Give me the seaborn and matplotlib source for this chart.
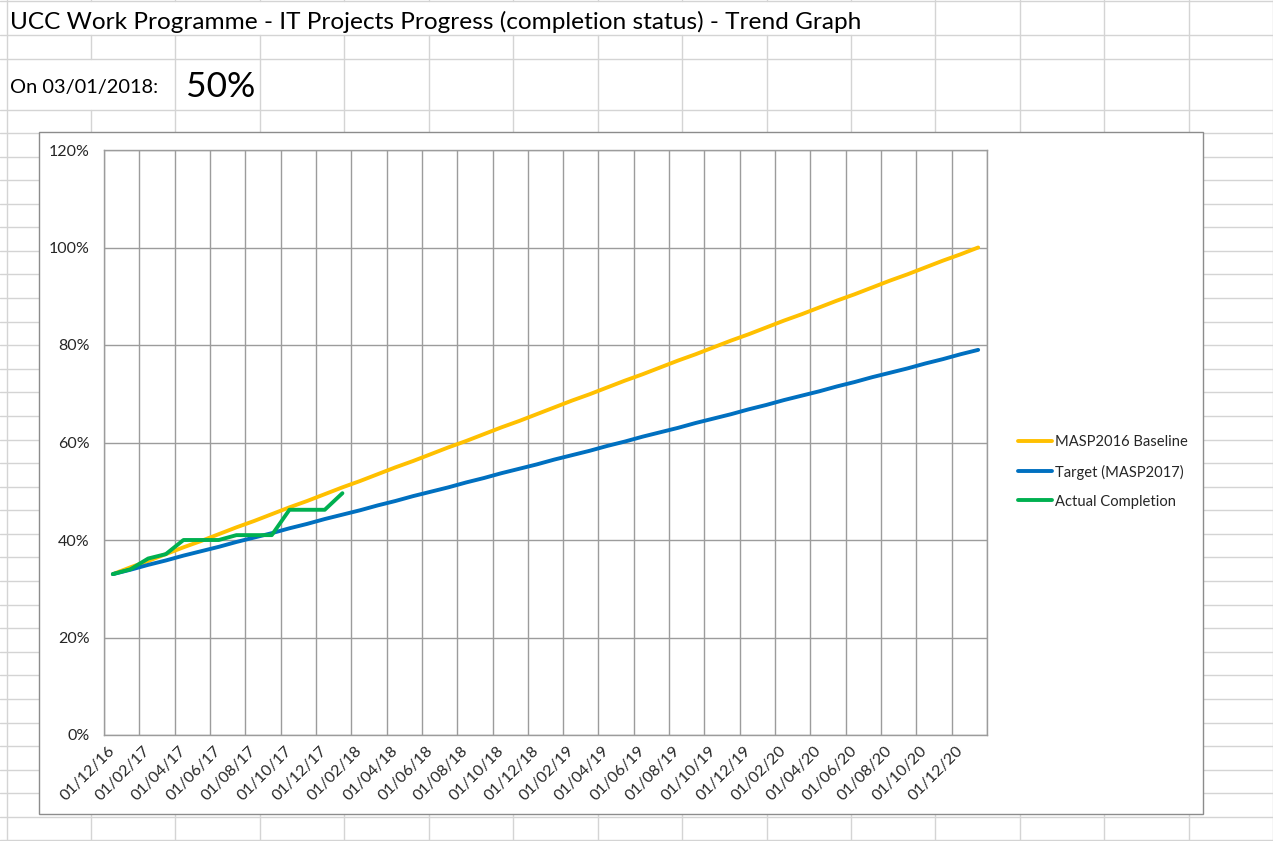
import matplotlib
matplotlib.use("Agg")
import matplotlib.pyplot as plt
import seaborn as sns
import numpy as np
import pandas as pd
from matplotlib.patches import Rectangle

# ---- data (monthly, Dec 2016 .. Jan 2021) ----
tick_labels = ['01/12/16', '01/02/17', '01/04/17', '01/06/17', '01/08/17', '01/10/17',
               '01/12/17', '01/02/18', '01/04/18', '01/06/18', '01/08/18', '01/10/18',
               '01/12/18', '01/02/19', '01/04/19', '01/06/19', '01/08/19', '01/10/19',
               '01/12/19', '01/02/20', '01/04/20', '01/06/20', '01/08/20', '01/10/20',
               '01/12/20']
baseline = [33.0, 34.4, 35.7, 37.1, 38.5, 39.8, 41.2, 42.6, 43.9, 45.3,
            46.7, 48.0, 49.4, 50.8, 52.1, 53.5, 54.9, 56.2, 57.6, 59.0,
            60.3, 61.7, 63.1, 64.4, 65.8, 67.2, 68.6, 69.9, 71.3, 72.7,
            74.0, 75.4, 76.8, 78.1, 79.5, 80.9, 82.2, 83.6, 85.0, 86.3,
            87.7, 89.1, 90.4, 91.8, 93.2, 94.5, 95.9, 97.3, 98.6, 100.0]
target = [33.0, 33.9, 34.9, 35.8, 36.8, 37.7, 38.6, 39.6, 40.5, 41.4,
          42.4, 43.3, 44.3, 45.2, 46.1, 47.1, 48.0, 49.0, 49.9, 50.8,
          51.8, 52.7, 53.7, 54.6, 55.5, 56.5, 57.4, 58.3, 59.3, 60.2,
          61.2, 62.1, 63.0, 64.0, 64.9, 65.8, 66.8, 67.7, 68.7, 69.6,
          70.5, 71.5, 72.4, 73.4, 74.3, 75.2, 76.2, 77.1, 78.1, 79.0]
actual = [33.0, 34.0, 36.2, 37.1, 40.0, 40.0, 40.0, 41.0, 41.0, 41.0,
          46.2, 46.2, 46.2, 49.6]
series_names = ['MASP2016 Baseline', 'Target (MASP2017)', 'Actual Completion']
series_colors = ['#FFC000', '#0070C0', '#00B050']

df = pd.concat([
    pd.DataFrame({'month': range(len(baseline)), 'value': baseline, 'series': series_names[0]}),
    pd.DataFrame({'month': range(len(target)), 'value': target, 'series': series_names[1]}),
    pd.DataFrame({'month': range(len(actual)), 'value': actual, 'series': series_names[2]}),
])

sns.set_style("white")
plt.rcParams['font.family'] = ['Lato', 'DejaVu Sans']

W, H = 1273, 841
fig = plt.figure(figsize=(W / 100, H / 100), dpi=100)

# ---- spreadsheet background (pixel coordinates) ----
bg = fig.add_axes([0, 0, 1, 1])
bg.set_xlim(0, W)
bg.set_ylim(H, 0)
bg.axis('off')
cell_col = '#d4d4d4'
col_x = [6.5 + 84.45 * k for k in range(16)]
row_y = [1, 35, 59, 110] + [133 + 23.58 * k for k in range(31)]
for y in row_y:
    bg.plot([0, W], [y, y], color=cell_col, lw=1.0, zorder=1)
for x in col_x:
    # overflowing cell text hides the column lines
    gaps = []
    if 50 < x < 870:
        gaps.append((1, 35))
    if 50 < x < 120:
        gaps.append((59, 110))
    start = 0
    for g0, g1 in gaps:
        bg.plot([x, x], [start, g0], color=cell_col, lw=1.0, zorder=1)
        start = g1
    bg.plot([x, x], [start, H], color=cell_col, lw=1.0, zorder=1)

bg.add_patch(Rectangle((39, 132), 1203 - 39, 814 - 132, facecolor='white',
                       edgecolor='#8c8c8c', lw=1.0, zorder=2))

bg.text(10, 29, 'UCC Work Programme - IT Projects Progress (completion status) - Trend Graph',
        fontsize=17.6, va='baseline', ha='left', color='black', zorder=3)
bg.text(10, 93, 'On 03/01/2018:', fontsize=14.4, va='baseline', ha='left', color='black', zorder=3)
bg.text(186, 97, '50%', fontsize=25.5, va='baseline', ha='left', color='black', zorder=3)

# ---- chart ----
ax = fig.add_axes([104 / W, (H - 735) / H, (987 - 104) / W, (735 - 150) / H])
ax.set_zorder(5)
ax.patch.set_alpha(0)
sns.lineplot(data=df, x='month', y='value', hue='series', hue_order=series_names,
             palette=series_colors, linewidth=2.8, legend=False, ax=ax)
for line in ax.lines:
    line.set_solid_capstyle('round')
    line.set_solid_joinstyle('round')

grid_col = '#9c9c9c'
ax.set_xlim(-0.5, 49.5)
ax.set_ylim(0, 120)
ax.set_xticks(np.arange(-0.5, 50, 2))
ax.set_xticklabels([])
ax.set_xticks(np.arange(0, 50, 2), labels=tick_labels, minor=True)
for lab in ax.get_xticklabels(minor=True):
    lab.set_rotation(45)
    lab.set_ha('right')
    lab.set_va('center')
    lab.set_rotation_mode('anchor')
ax.set_yticks(np.arange(0, 121, 20))
ax.set_yticklabels([f'{v}%' for v in range(0, 121, 20)])
ax.grid(True, which='major', color=grid_col, lw=1.0)
ax.tick_params(axis='both', which='major', direction='out', length=4.3, width=1.0,
               color=grid_col, labelsize=11.5, pad=6)
ax.tick_params(axis='x', which='minor', length=0, labelsize=11.5, pad=10)
for sp in ax.spines.values():
    sp.set_color(grid_col)
    sp.set_linewidth(1.0)
ax.set_xlabel('')
ax.set_ylabel('')

ax.legend(handles=ax.lines[:3], labels=series_names, loc='center left',
          bbox_to_anchor=(1008 / W, (H - 472) / H), bbox_transform=fig.transFigure,
          frameon=False, fontsize=10.6, handlelength=2.3, handletextpad=0.2,
          labelspacing=1.02, borderpad=0.2)

fig.savefig('out.png', dpi=100)
